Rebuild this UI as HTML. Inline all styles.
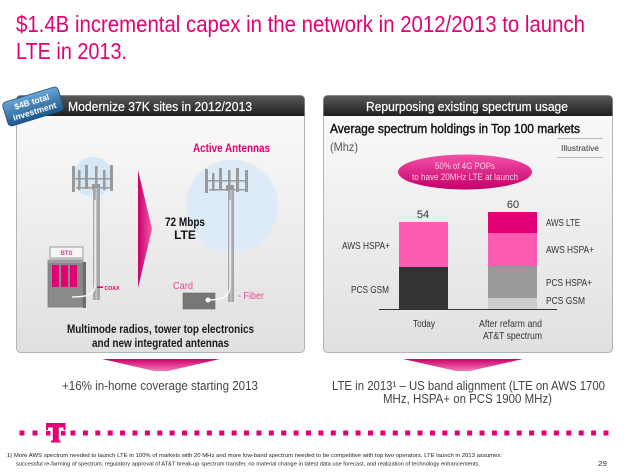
<!DOCTYPE html>
<html><head><meta charset="utf-8"><style>
html,body{margin:0;padding:0;background:#fff;}
svg{display:block;}
text{font-family:"Liberation Sans",sans-serif;}
</style></head><body>
<svg width="644" height="472" viewBox="0 0 644 472" xmlns="http://www.w3.org/2000/svg">
<defs>
<linearGradient id="hdr" x1="0" y1="0" x2="0" y2="1"><stop offset="0" stop-color="#5a5a5a"/><stop offset="1" stop-color="#1e1e1e"/></linearGradient>
<linearGradient id="body" x1="0" y1="0" x2="0" y2="1"><stop offset="0" stop-color="#fbfbfb"/><stop offset="1" stop-color="#e0e0e0"/></linearGradient>
<linearGradient id="badge" x1="0" y1="0" x2="0" y2="1"><stop offset="0" stop-color="#6aa6d6"/><stop offset="1" stop-color="#1d578a"/></linearGradient>
<linearGradient id="tri" x1="0" y1="0" x2="1" y2="0"><stop offset="0" stop-color="#c8006a"/><stop offset="1" stop-color="#f25aa8"/></linearGradient>
<linearGradient id="dn" x1="0" y1="0" x2="0" y2="1"><stop offset="0" stop-color="#cc006a"/><stop offset="1" stop-color="#f27ab8"/></linearGradient>
<linearGradient id="ell" x1="0" y1="0" x2="0" y2="1"><stop offset="0" stop-color="#f550a8"/><stop offset="1" stop-color="#c4006a"/></linearGradient>
</defs>

<!-- Title -->
<text x="16" y="32" font-size="23" fill="#e20074" textLength="569" lengthAdjust="spacingAndGlyphs">$1.4B incremental  capex in the network in 2012/2013 to launch</text>
<text x="16" y="59" font-size="23" fill="#e20074" textLength="111" lengthAdjust="spacingAndGlyphs">LTE in 2013.</text>

<!-- Left panel -->
<rect x="16.5" y="95.5" width="288" height="257" rx="4" fill="url(#body)" stroke="#b4b4b4"/>
<path d="M16.5,116 V99.5 a4,4 0 0 1 4,-4 H300.5 a4,4 0 0 1 4,4 V116 Z" fill="url(#hdr)"/>
<text x="68" y="111" font-size="12.5" fill="#fff" stroke="#fff" stroke-width="0.2" textLength="184" lengthAdjust="spacingAndGlyphs">Modernize  37K sites in 2012/2013</text>

<!-- Right panel -->
<rect x="323.5" y="95.5" width="289" height="257" rx="4" fill="url(#body)" stroke="#b4b4b4"/>
<path d="M323.5,116 V99.5 a4,4 0 0 1 4,-4 H608.5 a4,4 0 0 1 4,4 V116 Z" fill="url(#hdr)"/>
<text x="366" y="111" font-size="12.5" fill="#fff" stroke="#fff" stroke-width="0.2" textLength="202" lengthAdjust="spacingAndGlyphs">Repurposing  existing spectrum usage</text>

<!-- Badge -->
<g transform="translate(33,106) rotate(-17)">
<rect x="-29" y="-12" width="58" height="25" rx="4" fill="url(#badge)" stroke="#1a4f7e" stroke-width="0.8"/>
<text x="0" y="-1.5" font-size="8.5" font-weight="bold" fill="#fff" text-anchor="middle">$4B total</text>
<text x="0" y="8.5" font-size="8.5" font-weight="bold" fill="#fff" text-anchor="middle">investment</text>
</g>

<!-- Left tower -->
<circle cx="93" cy="177" r="20" fill="#d6e8f5"/>
<g fill="#9a9a9a">
<rect x="72" y="166" width="3" height="26"/>
<rect x="78" y="170" width="2.5" height="20"/>
<rect x="85" y="165" width="3" height="24"/>
<rect x="95" y="166" width="2.5" height="22"/>
<rect x="103" y="170" width="2.5" height="20"/>
<rect x="110" y="165" width="3" height="26"/>
<rect x="73" y="178" width="40" height="1.5"/>
<rect x="76" y="187" width="34" height="1.5"/>
<rect x="92" y="184" width="8" height="6"/>
</g>
<rect x="93" y="188" width="7" height="112" fill="#a8a8a8"/>
<rect x="95.5" y="188" width="1.5" height="112" fill="#c4c4c4"/>
<path d="M72,297 C86,297 95,295 95,285 L95,200" fill="none" stroke="#fff" stroke-width="1.3"/>
<rect x="97" y="286.5" width="6" height="1.5" fill="#e20074"/>
<text x="104.5" y="290" font-size="5" font-weight="bold" fill="#e20074" textLength="15" lengthAdjust="spacingAndGlyphs">COAX</text>
<rect x="50" y="247" width="33" height="11" fill="#f6f6f6" stroke="#999" stroke-width="1"/>
<text x="66.5" y="255" font-size="6" font-weight="bold" fill="#e23a90" text-anchor="middle">BTS</text>
<rect x="48" y="260" width="35" height="47" fill="#8a8a8a" stroke="#777" stroke-width="0.8"/>
<rect x="48" y="260" width="35" height="3" fill="#9c9c9c"/>
<rect x="83" y="262" width="3" height="46" fill="#6e6e6e"/>
<rect x="52" y="265" width="7" height="22" fill="#e20074"/>
<rect x="61" y="265" width="7" height="22" fill="#e20074"/>
<rect x="70" y="265" width="7" height="22" fill="#e20074"/>
<path d="M72,297 C86,297 95,295 95,285" fill="none" stroke="#fff" stroke-width="1.3"/>

<!-- Transition triangle -->
<polygon points="138,170 152,229 138,288" fill="url(#tri)"/>

<!-- Right tower -->
<circle cx="232" cy="206" r="46" fill="#dcebf7"/>
<g fill="#9a9a9a">
<rect x="205" y="169" width="3" height="24"/>
<rect x="212" y="173" width="2.5" height="18"/>
<rect x="219" y="168" width="3" height="22"/>
<rect x="228" y="170" width="2.5" height="20"/>
<rect x="236" y="168" width="3" height="24"/>
<rect x="245" y="170" width="3" height="22"/>
<rect x="206" y="180" width="42" height="1.5"/>
<rect x="209" y="189" width="36" height="1.5"/>
<rect x="226" y="185" width="8" height="6"/>
</g>
<rect x="228" y="190" width="6" height="112" fill="#a8a8a8"/>
<rect x="230.3" y="190" width="1.4" height="112" fill="#c4c4c4"/>
<rect x="183" y="293" width="32" height="16" fill="#777" stroke="#666" stroke-width="0.6"/>
<path d="M208,300 C222,300 230,297 230,286 L230,200" fill="none" stroke="#fff" stroke-width="1.3"/>
<circle cx="208" cy="300" r="2.5" fill="#fff"/>
<text x="173" y="289" font-size="10.5" fill="#e5489a" textLength="20" lengthAdjust="spacingAndGlyphs">Card</text>
<text x="238" y="299" font-size="10.5" fill="#e5489a" textLength="26" lengthAdjust="spacingAndGlyphs">- Fiber</text>
<text x="193" y="152" font-size="12" font-weight="bold" fill="#e20074" textLength="77" lengthAdjust="spacingAndGlyphs">Active Antennas</text>

<text x="165" y="226" font-size="12" font-weight="bold" fill="#111" textLength="40" lengthAdjust="spacingAndGlyphs">72 Mbps</text>
<text x="185" y="239" font-size="12" font-weight="bold" fill="#111" text-anchor="middle">LTE</text>

<text x="67" y="333" font-size="11.5" font-weight="bold" fill="#1a1a1a" textLength="187" lengthAdjust="spacingAndGlyphs">Multimode radios, tower top electronics</text>
<text x="92" y="347" font-size="11.5" font-weight="bold" fill="#1a1a1a" textLength="137" lengthAdjust="spacingAndGlyphs">and new integrated antennas</text>

<!-- Right chart -->
<text x="330" y="133" font-size="13" fill="#111" stroke="#111" stroke-width="0.4" textLength="250" lengthAdjust="spacingAndGlyphs">Average spectrum holdings in Top 100 markets</text>
<text x="330" y="151" font-size="12" fill="#555" textLength="28" lengthAdjust="spacingAndGlyphs">(Mhz)</text>
<line x1="557" y1="138.5" x2="603" y2="138.5" stroke="#bbb"/>
<line x1="557" y1="157.5" x2="603" y2="157.5" stroke="#bbb"/>
<text x="580" y="151" font-size="8.5" fill="#333" text-anchor="middle" textLength="38" lengthAdjust="spacingAndGlyphs">Illustrative</text>

<ellipse cx="465" cy="172" rx="67" ry="17.5" fill="url(#ell)"/>
<text x="465" y="169" font-size="9" fill="#fbd0e6" text-anchor="middle" textLength="60" lengthAdjust="spacingAndGlyphs">50% of 4G POPs</text>
<text x="465" y="180" font-size="9" fill="#fbd0e6" text-anchor="middle" textLength="106" lengthAdjust="spacingAndGlyphs">to have 20MHz LTE at launch</text>

<rect x="399" y="222" width="49" height="45" fill="#fd5cb2"/>
<rect x="399" y="267" width="49" height="42" fill="#333"/>
<rect x="488" y="212" width="49" height="21" fill="#e20074"/>
<rect x="488" y="233" width="49" height="33" fill="#fd5cb2"/>
<rect x="488" y="266" width="49" height="32" fill="#999"/>
<rect x="488" y="298" width="49" height="11" fill="#cdcdcd"/>
<line x1="379" y1="309.5" x2="557" y2="309.5" stroke="#333" stroke-width="1"/>

<text x="423" y="218" font-size="11" fill="#333" text-anchor="middle">54</text>
<text x="513" y="208" font-size="11" fill="#333" text-anchor="middle">60</text>
<g font-size="10.5" fill="#333">
<text x="342" y="249" textLength="48" lengthAdjust="spacingAndGlyphs">AWS HSPA+</text>
<text x="351" y="293" textLength="38" lengthAdjust="spacingAndGlyphs">PCS GSM</text>
<text x="546" y="226" textLength="34" lengthAdjust="spacingAndGlyphs">AWS LTE</text>
<text x="546" y="253" textLength="48" lengthAdjust="spacingAndGlyphs">AWS HSPA+</text>
<text x="546" y="286" textLength="46" lengthAdjust="spacingAndGlyphs">PCS HSPA+</text>
<text x="546" y="304" textLength="39" lengthAdjust="spacingAndGlyphs">PCS GSM</text>
<text x="413" y="327" textLength="22" lengthAdjust="spacingAndGlyphs">Today</text>
<text x="479" y="327" textLength="63" lengthAdjust="spacingAndGlyphs">After refarm and</text>
<text x="483" y="339" textLength="59" lengthAdjust="spacingAndGlyphs">AT&amp;T spectrum</text>
</g>

<!-- Down arrows -->
<polygon points="102,359 220,359 168,371 154,371" fill="url(#dn)"/>
<polygon points="403,359 523,359 470,371 456,371" fill="url(#dn)"/>

<text x="62" y="390" font-size="13" fill="#444" textLength="196" lengthAdjust="spacingAndGlyphs">+16% in-home  coverage starting  2013</text>
<text x="332" y="390" font-size="13" fill="#444" textLength="273" lengthAdjust="spacingAndGlyphs">LTE in 2013¹ – US band alignment  (LTE  on AWS  1700</text>
<text x="383" y="403" font-size="13" fill="#444" textLength="169" lengthAdjust="spacingAndGlyphs">MHz, HSPA+ on PCS 1900 MHz)</text>

<!-- T-Mobile dots -->
<rect x="19.5" y="430.5" width="5" height="5" fill="#e20074"/>
<rect x="32.5" y="430.5" width="5" height="5" fill="#e20074"/>
<rect x="46" y="431" width="4.5" height="4.5" fill="#e20074"/>
<rect x="61" y="431" width="4.5" height="4.5" fill="#e20074"/>
<rect x="46" y="423" width="19.5" height="4.5" fill="#e20074"/>
<rect x="46" y="423" width="2" height="7" fill="#e20074"/>
<rect x="63.5" y="423" width="2" height="7" fill="#e20074"/>
<rect x="52.8" y="423" width="6" height="19" fill="#e20074"/>
<rect x="51" y="440.5" width="9.5" height="2" fill="#e20074"/>
<line x1="70.5" y1="433" x2="609" y2="433" stroke="#e20074" stroke-width="5" stroke-dasharray="5 7.395"/>

<!-- Footnote -->
<text x="7" y="457" font-size="5.6" fill="#222" textLength="495" lengthAdjust="spacingAndGlyphs">1) More AWS spectrum needed to launch LTE in 100% of markets with 20 MHz and more low-band spectrum needed to be competitive with top two operators.  LTE launch in 2013 assumes:</text>
<text x="16" y="465.5" font-size="5.6" fill="#222" textLength="464" lengthAdjust="spacingAndGlyphs">successful re-farming of spectrum, regulatory approval of AT&amp;T break-up spectrum transfer, no material change in latest data use forecast, and realization of technology enhancements.</text>
<text x="598" y="466" font-size="7" fill="#333" textLength="9" lengthAdjust="spacingAndGlyphs">29</text>
</svg>
</body></html>
